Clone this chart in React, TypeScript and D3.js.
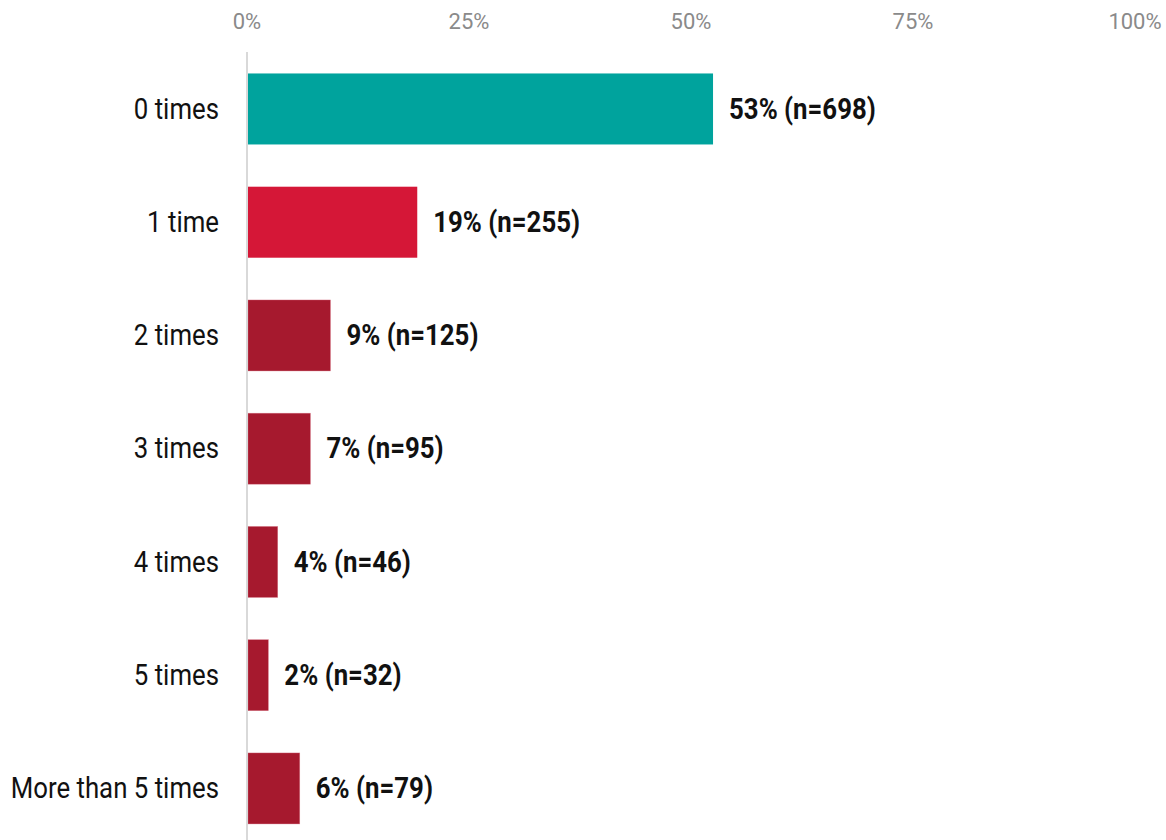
import { useEffect, useRef } from 'react';
import * as d3 from 'd3';

const categories = ['0 times', '1 time', '2 times', '3 times', '4 times', '5 times', 'More than 5 times'];
const counts = [698, 255, 125, 95, 46, 32, 79];
const pctLabels = [53, 19, 9, 7, 4, 2, 6];
const barColors = ['#00a39d', '#d51737', '#a6192e', '#a6192e', '#a6192e', '#a6192e', '#a6192e'];
const xTicks = [0, 0.25, 0.5, 0.75, 1];

const WIDTH = 1166;
const HEIGHT = 840;
const SQUEEZE = 0.86; // fake a condensed face

export default function App() {
  const svgRef = useRef<SVGSVGElement>(null);

  useEffect(() => {
    if (!svgRef.current) return;
    const svg = d3.select(svgRef.current);
    svg.selectAll('*').remove();

    const total = d3.sum(counts);
    const data = categories.map((c, i) => ({
      cat: c,
      n: counts[i],
      share: counts[i] / total,
      pct: pctLabels[i],
      color: barColors[i],
    }));

    const x = d3.scaleLinear().domain([0, 1]).range([247, 1135]);
    const y = d3.scaleBand<string>().domain(categories).range([52.4, 845]).paddingInner(0.373).paddingOuter(0.186);

    // top tick labels
    svg.append('g')
      .selectAll('text')
      .data(xTicks)
      .join('text')
      .attr('x', d => x(d))
      .attr('y', 29)
      .attr('text-anchor', 'middle')
      .attr('font-family', 'Roboto, sans-serif')
      .attr('font-size', 22)
      .attr('fill', '#8a8a8a')
      .text(d => d3.format('.0%')(d));

    // bars
    svg.append('g')
      .selectAll('rect')
      .data(data)
      .join('rect')
      .attr('x', x(0) + 1)
      .attr('y', d => y(d.cat)!)
      .attr('width', d => x(d.share) - x(0) - 1)
      .attr('height', y.bandwidth())
      .attr('fill', d => d.color)
      .attr('stroke', (d, i) => (i > 1 ? '#d87585' : 'none'))
      .attr('stroke-opacity', 0.6)
      .attr('stroke-width', 0.6);

    // axis line
    svg.append('line')
      .attr('x1', x(0))
      .attr('x2', x(0))
      .attr('y1', 52)
      .attr('y2', HEIGHT)
      .attr('stroke', '#cccccc')
      .attr('stroke-width', 1.5);

    // category labels
    svg.append('g')
      .selectAll('text')
      .data(data)
      .join('text')
      .attr('transform', d => `translate(219,${y(d.cat)! + y.bandwidth() / 2}) scale(${SQUEEZE},1)`)
      .attr('dy', '0.32em')
      .attr('text-anchor', 'end')
      .attr('font-family', 'Roboto, sans-serif')
      .attr('font-size', 30)
      .attr('fill', '#111')
      .text(d => d.cat);

    // value labels
    svg.append('g')
      .selectAll('text')
      .data(data)
      .join('text')
      .attr('transform', d => `translate(${x(d.share) + 16},${y(d.cat)! + y.bandwidth() / 2}) scale(${SQUEEZE},1)`)
      .attr('dy', '0.32em')
      .attr('font-family', 'Roboto, sans-serif')
      .attr('font-weight', 700)
      .attr('font-size', 30)
      .attr('fill', '#111')
      .text(d => `${d.pct}% (n=${d.n})`);
  }, []);

  return (
    <div style={{ position: 'absolute', left: 0, top: 0, width: WIDTH, height: HEIGHT, background: '#fff' }}>
      <svg ref={svgRef} width={WIDTH} height={HEIGHT} style={{ display: 'block' }} />
    </div>
  );
}
